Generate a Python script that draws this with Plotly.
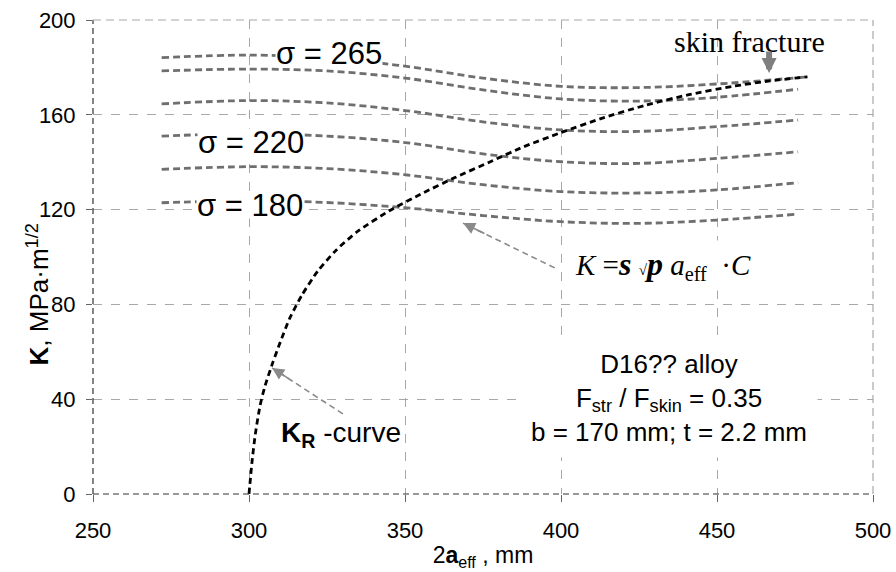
import plotly.graph_objects as go

# Stress-intensity curves K(2a_eff) for several gross stresses (MPa)
sigma_x = [272, 300, 325, 350, 375, 400, 425, 450, 476]
sigma_x_top = [272, 300, 325, 350, 375, 400, 425, 450, 479]
k_s1 = [184.1, 185.2, 184.0, 180.5, 175.5, 172.0, 171.5, 173.0, 176.0]
k_s2 = [178.5, 179.3, 178.5, 175.5, 170.5, 166.7, 165.8, 167.4, 170.8]
k_s3 = [164.6, 166.0, 165.0, 161.8, 157.0, 153.6, 153.0, 155.0, 157.8]
k_s4 = [151.0, 152.0, 151.0, 148.3, 143.5, 140.2, 139.5, 141.6, 144.4]
k_s5 = [137.0, 138.1, 137.3, 134.7, 130.5, 127.6, 127.0, 128.3, 131.4]
k_s6 = [122.9, 123.7, 123.0, 120.8, 117.5, 114.9, 114.2, 115.6, 118.1]

# Crack growth resistance (K_R) curve
kr_x = [300, 301, 302, 303.5, 305, 307.5, 310, 313, 317, 322, 328, 335, 345,
        355, 366, 377, 388, 400, 413, 427, 441, 455, 467, 479]
kr_k = [0, 14, 25, 37, 45, 55, 64, 74, 84, 94, 103, 111, 119.5,
        126.5, 133.5, 140, 146.5, 152.5, 158.5, 164, 168.5, 172, 174.3, 176]

x_ticks = [250, 300, 350, 400, 450, 500]
y_ticks = [0, 40, 80, 120, 160, 200]

SANS = "Liberation Sans"
SERIF = "Liberation Serif"
GRID = "#a8a8a8"
CURVE = "#6f6f6f"

fig = go.Figure()

for xs, ks in [(sigma_x_top, k_s1), (sigma_x, k_s2), (sigma_x, k_s3),
               (sigma_x, k_s4), (sigma_x, k_s5), (sigma_x, k_s6)]:
    fig.add_trace(go.Scatter(
        x=xs, y=ks, mode="lines", showlegend=False, hoverinfo="skip",
        line=dict(color=CURVE, width=2.8, dash="7px,4px", shape="spline", smoothing=1.0),
    ))

fig.add_trace(go.Scatter(
    x=kr_x, y=kr_k, mode="lines", showlegend=False, hoverinfo="skip",
    line=dict(color="black", width=2.8, dash="6px,4px", shape="spline", smoothing=0.6),
))

annotations = []

# stress labels
for txt, xx, yy in [("σ = 265", 325.6, 186.0), ("σ = 220", 300.6, 148.7), ("σ = 180", 300.3, 122.0)]:
    annotations.append(dict(x=xx, y=yy, xref="x", yref="y", text=txt, showarrow=False,
                            font=dict(family=SANS, size=31, color="black"),
                            bgcolor="white", borderpad=0, height=26, valign="middle"))

# K_R label
annotations.append(dict(x=329.5, y=24.9, xref="x", yref="y",
                        text="<b>K<sub>R</sub></b> -curve", showarrow=False,
                        font=dict(family=SANS, size=28, color="black"),
                        bgcolor="white", borderpad=1))

# formula
annotations.append(dict(x=432.7, y=96.6, xref="x", yref="y",
                        text="<i>K</i> =<b><i><span style='font-size:32px'>s</span></i></b> "
                             "<span style='font-size:15px'>√</span>"
                             "<b><i><span style='font-size:32px'>p</span></i></b> "
                             "<i>a</i><sub>eff</sub>  ·<i>C</i>",
                        showarrow=False, font=dict(family=SERIF, size=29, color="black"),
                        bgcolor="white", borderpad=5))

# material / geometry note
annotations.append(dict(x=434.5, y=40.5, xref="x", yref="y",
                        text="D16?? alloy<br>F<sub>str</sub> / F<sub>skin</sub> = 0.35<br>b = 170 mm; t = 2.2 mm",
                        showarrow=False, align="center",
                        font=dict(family=SANS, size=26, color="black"),
                        bgcolor="white", borderpad=10))

# skin fracture note
annotations.append(dict(x=460.5, y=191.0, xref="x", yref="y", text="skin fracture",
                        showarrow=False, font=dict(family=SERIF, size=30, color="black")))
annotations.append(dict(x=466.7, y=177.6, xref="x", yref="y", text="", showarrow=True,
                        ax=0, ay=-23, arrowhead=2, arrowsize=0.5, arrowwidth=6,
                        arrowcolor="#7f7f7f"))

# pointer arrows: dashed shafts plus short solid heads
pointer_specs = [((330.1, 33.8), (307.4, 53.2)), ((398.0, 95.4), (368.6, 114.3))]
shapes = []
for (tx, ty), (hx, hy) in pointer_specs:
    shapes.append(dict(type="line", xref="x", yref="y", x0=tx, y0=ty, x1=hx, y1=hy,
                       line=dict(color="#8a8a8a", width=1.6, dash="6px,4px")))
    annotations.append(dict(x=hx, y=hy, xref="x", yref="y", axref="x", ayref="y",
                            ax=hx + (tx - hx) * 0.25, ay=hy + (ty - hy) * 0.25,
                            text="", showarrow=True, arrowhead=2, arrowsize=1.5,
                            arrowwidth=1.6, arrowcolor="#8a8a8a"))

# vinculum of the square root in the formula
shapes.append(dict(type="line", xref="x", yref="y", x0=431.1, y0=104.6, x1=451.0, y1=104.6,
                   line=dict(color="#666", width=1.2, dash="5px,3px")))

# y-axis title
annotations.append(dict(x=0, y=84, xref="paper", yref="y", xshift=-73,
                        text="<b>K</b>, MPa·m<sup>1/2</sup>", textangle=-90, showarrow=False,
                        font=dict(family=SANS, size=26, color="black")))

# frame: dark dashed left/bottom, grey dashed top/right
shapes += [
    dict(type="line", xref="x domain", yref="y domain", x0=0, y0=0, x1=0, y1=1,
         line=dict(color="#333", width=1.2, dash="6px,4px")),
    dict(type="line", xref="x domain", yref="y domain", x0=0, y0=0, x1=1, y1=0,
         line=dict(color="#333", width=1.2, dash="6px,4px")),
    dict(type="line", xref="x domain", yref="y domain", x0=0, y0=1, x1=1, y1=1,
         line=dict(color=GRID, width=1.2, dash="8px,5px")),
    dict(type="line", xref="x domain", yref="y domain", x0=1, y0=0, x1=1, y1=1,
         line=dict(color=GRID, width=1.2, dash="8px,5px")),
]

fig.update_layout(
    width=896, height=572,
    margin=dict(l=93, r=23, t=20, b=78, autoexpand=False),
    paper_bgcolor="white", plot_bgcolor="white",
    showlegend=False,
    annotations=annotations,
    shapes=shapes,
    xaxis=dict(
        range=[250, 500], tickvals=x_ticks, ticktext=[str(v) for v in x_ticks],
        showgrid=True, gridcolor=GRID, griddash="dash", gridwidth=1,
        zeroline=False, showline=False, automargin=False,
        ticks="outside", ticklen=7, tickcolor="#666", ticklabelstandoff=10,
        tickfont=dict(family=SANS, size=22, color="black"),
        title=dict(text="2<b>a</b><sub>eff</sub> , mm", standoff=4,
                   font=dict(family=SANS, size=23, color="black")),
    ),
    yaxis=dict(
        range=[0, 200], tickvals=y_ticks, ticktext=[str(v) for v in y_ticks],
        showgrid=True, gridcolor=GRID, griddash="dash", gridwidth=1,
        zeroline=False, showline=False, automargin=False,
        ticks="outside", ticklen=6, tickcolor="#666", ticklabelstandoff=6,
        tickfont=dict(family=SANS, size=22, color="black"),
    ),
)

fig.write_html("out.html")
